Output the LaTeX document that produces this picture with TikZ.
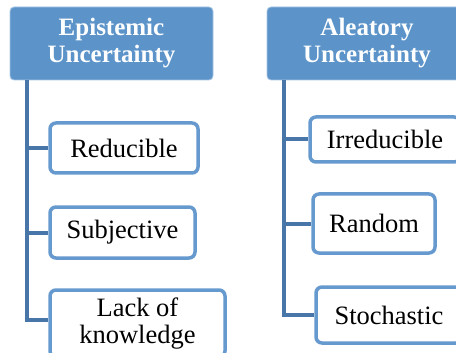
\documentclass[tikz,border=0pt]{standalone}
\usepackage{fontspec}
\setmainfont{Liberation Serif}
\definecolor{hdrfill}{RGB}{92,148,202}
\definecolor{hdredge}{RGB}{170,198,230}
\definecolor{boxedge}{RGB}{102,153,206}
\definecolor{trunk}{RGB}{72,118,168}
\begin{document}
\begin{tikzpicture}[x=1pt,y=-1pt,
  hdr/.style={fill=hdrfill,draw=hdredge,line width=0.8pt,rounded corners=4pt,
    text=white,font=\fontsize{25}{27}\selectfont\bfseries,align=center,inner sep=0pt},
  leaf/.style={draw=boxedge,fill=white,line width=3.5pt,rounded corners=6pt,
    font=\fontsize{26.5}{27}\selectfont,align=center,inner sep=0pt},
  conn/.style={draw=trunk,line width=4pt}]
\useasboundingbox (0,0) rectangle (456,353);
% headers
\node[hdr,minimum width=203pt,minimum height=73pt] (h1) at (111.5,43.5) {Epistemic\\Uncertainty};
\node[hdr,minimum width=200pt,minimum height=73pt] (h2) at (367,43.5) {Aleatory\\Uncertainty};
% trunk coordinates
\coordinate (t1) at (27,80);
\coordinate (t2) at (284,80);
% left children
\node[leaf,minimum width=148pt,minimum height=50pt] (l1) at (124,148) {Reducible};
\node[leaf,minimum width=145pt,minimum height=51pt] (l2) at (122.5,232.5) {Subjective};
\node[leaf,minimum width=175pt,minimum height=67pt] (l3) at (137.5,323.5) {Lack of\\knowledge};
% right children
\node[leaf,minimum width=150pt,minimum height=45pt] (r1) at (385,139.5) {Irreducible};
\node[leaf,minimum width=122pt,minimum height=59pt] (r2) at (374,223.5) {Random};
\node[leaf,minimum width=146pt,minimum height=56pt] (r3) at (389,315) {Stochastic};
% connectors
\draw[conn] (t1) |- ([yshift=3.5pt]l3.west);
\draw[conn] (t1 |- l1.west) -- (l1.west);
\draw[conn] (t1 |- l2.west) -- (l2.west);
\draw[conn] (t2) |- (r3.west);
\draw[conn] (t2 |- r1.west) -- (r1.west);
\draw[conn] (t2 |- r2.west) -- (r2.west);
\end{tikzpicture}
\end{document}
